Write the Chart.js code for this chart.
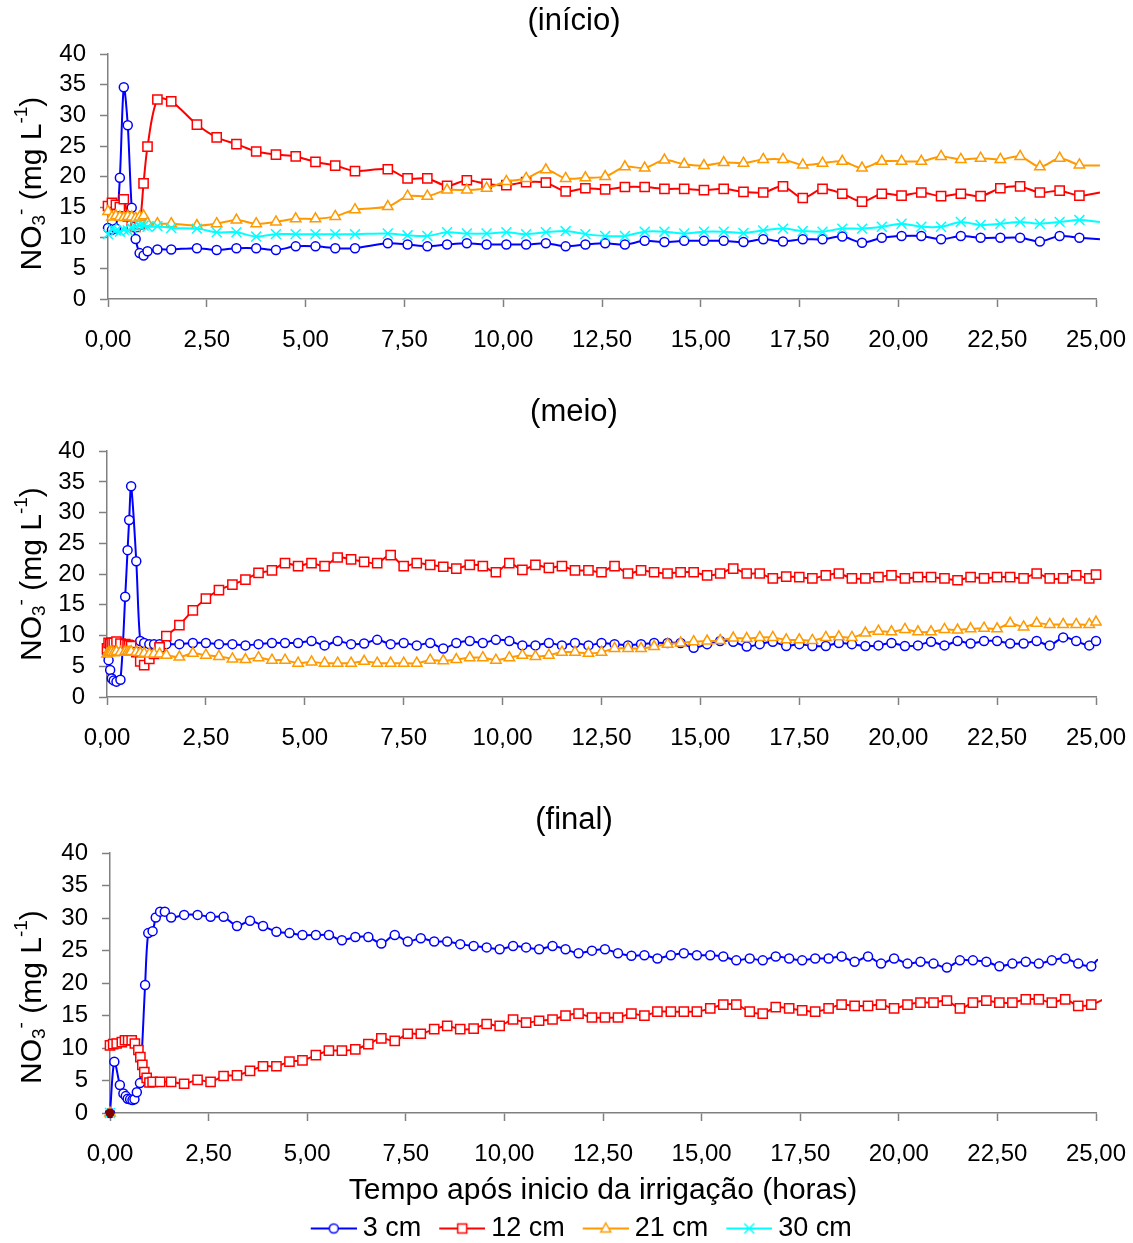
<!DOCTYPE html>
<html>
<head>
<meta charset="utf-8">
<script src="https://cdn.jsdelivr.net/npm/chart.js@4.4.0/dist/chart.umd.min.js"></script>
<style>
  html, body { margin: 0; padding: 0; background: #fff; overflow: hidden; }
  canvas { position: absolute; left: 0; }
  #inicio { top: 0; }
  #meio { top: 390px; }
  #final { top: 790px; }
</style>
</head>
<body>
<canvas id="inicio" width="1133" height="380"></canvas>
<canvas id="meio" width="1133" height="390"></canvas>
<canvas id="final" width="1133" height="462"></canvas>
<script>
const FONT = '"Liberation Sans", Arial, sans-serif';

const xTickValues = [0, 2.5, 5, 7.5, 10, 12.5, 15, 17.5, 20, 22.5, 25];
const xTickLabels = ['0,00', '2,50', '5,00', '7,50', '10,00', '12,50', '15,00', '17,50', '20,00', '22,50', '25,00'];
const seriesNames = ['3 cm', '12 cm', '21 cm', '30 cm'];
const xAxisTitle = 'Tempo após inicio da irrigação (horas)';

// (início)
const tempoInicio = [0, 0.1, 0.2, 0.3, 0.4, 0.5, 0.6, 0.7, 0.8, 0.9, 1.0, 1.25, 1.6,
  2.25, 2.75, 3.25, 3.75, 4.25, 4.75, 5.25, 5.75, 6.25,
  7.08, 7.58, 8.08, 8.58, 9.08, 9.58, 10.08, 10.58, 11.08, 11.58, 12.08, 12.58, 13.08, 13.58, 14.08, 14.58, 15.08, 15.58, 16.08,
  16.58, 17.08, 17.58, 18.08, 18.58, 19.08, 19.58, 20.08, 20.58, 21.08, 21.58, 22.08, 22.58, 23.08, 23.58, 24.08, 24.58,
  25.1];
const inicio3 = [11.6, 11.3, 11.5, 19.8, 34.6, 28.4, 14.9, 9.8, 7.5, 7.1, 7.8, 8.1, 8.1,
  8.3, 8.0, 8.3, 8.3, 8.0, 8.6, 8.6, 8.3, 8.3,
  9.1, 8.9, 8.6, 8.9, 9.1, 8.9, 8.9, 8.9, 9.1, 8.6, 8.9, 9.1, 8.9, 9.5, 9.3, 9.5, 9.5, 9.5, 9.3,
  9.75, 9.4, 9.75, 9.75, 10.2, 9.2, 10.0, 10.3, 10.3, 9.75, 10.3, 10.0, 10.0, 10.0, 9.4, 10.3, 10.0,
  9.75];
const inicio12 = [15.2, 15.7, 15.4, 15.0, 16.3, 13.5, 12.0, 11.8, 12.2, 18.9, 24.9, 32.6, 32.3,
  28.5, 26.4, 25.3, 24.1, 23.6, 23.3, 22.4, 21.8, 20.9,
  21.2, 19.7, 19.7, 18.5, 19.4, 18.8, 18.6, 19.1, 19.0, 17.6, 18.1, 17.9, 18.3, 18.3, 18.0, 18.0, 17.8, 18.0, 17.5,
  17.4, 18.4, 16.5, 18.0, 17.2, 15.9, 17.2, 16.9, 17.4, 16.8, 17.2, 16.8, 18.1, 18.4, 17.4, 17.7, 16.9,
  17.4];
const inicio21 = [14.3, 13.4, 13.6, 13.4, 13.3, 13.5, 13.4, 13.2, 13.4, 13.6, 12.4, 12.3, 12.3,
  12.0, 12.3, 12.9, 12.3, 12.6, 13.1, 13.1, 13.5, 14.6,
  15.1, 16.8, 16.8, 17.8, 17.8, 18.1, 19.2, 19.7, 21.1, 19.7, 19.8, 20.0, 21.6, 21.4, 22.7, 22.0, 21.8, 22.3, 22.2,
  22.8, 22.8, 21.9, 22.2, 22.5, 21.4, 22.5, 22.5, 22.5, 23.3, 22.8, 23.0, 22.8, 23.3, 21.6, 23.0, 21.9,
  21.8];
const inicio30 = [10.6, 11.5, 11.2, 11.0, 11.3, 11.2, 11.6, 11.8, 12.0, 12.0, 11.8, 11.9, 11.6,
  11.5, 10.9, 10.9, 10.2, 10.6, 10.6, 10.6, 10.6, 10.6,
  10.7, 10.4, 10.3, 10.9, 10.7, 10.7, 10.9, 10.6, 10.9, 11.1, 10.6, 10.3, 10.3, 11.0, 11.0, 10.7, 11.0, 11.0, 10.8,
  11.2, 11.5, 11.1, 11.0, 11.5, 11.5, 11.8, 12.3, 11.8, 11.8, 12.6, 12.1, 12.3, 12.6, 12.3, 12.6, 12.9,
  12.6];

// (meio)
const tempoMeio = [0, 0.04, 0.08, 0.12, 0.17, 0.24, 0.34, 0.46, 0.52, 0.56, 0.61, 0.74, 0.84, 0.94, 1.07, 1.19, 1.33,
  1.5, 1.83, 2.17, 2.5, 2.83, 3.17, 3.5, 3.83, 4.17, 4.5, 4.83, 5.17, 5.5, 5.83, 6.17, 6.5, 6.83,
  7.17, 7.5, 7.83, 8.17, 8.5, 8.83, 9.17, 9.5, 9.83, 10.17, 10.5, 10.83, 11.17, 11.5, 11.83, 12.17, 12.5, 12.83, 13.17, 13.5, 13.83, 14.17, 14.5, 14.83, 15.17, 15.5, 15.83, 16.17,
  16.5, 16.83, 17.17, 17.5, 17.83, 18.17, 18.5, 18.83, 19.17, 19.5, 19.83, 20.17, 20.5, 20.83, 21.17, 21.5, 21.83, 22.17, 22.5, 22.83, 23.17, 23.5, 23.83, 24.17, 24.5, 24.83,
  25.0, 25.17];
const meio3 = [7.0, 6.0, 4.4, 3.0, 2.7, 2.5, 2.8, 16.3, 23.9, 28.8, 34.3, 22.1, 9.1, 8.8, 8.6, 8.6, 8.6,
  8.6, 8.6, 8.8, 8.8, 8.6, 8.6, 8.4, 8.6, 8.8, 8.8, 8.8, 9.1, 8.4, 9.1, 8.6, 8.7, 9.3,
  8.6, 8.8, 8.4, 8.8, 7.9, 8.8, 9.1, 8.8, 9.3, 9.1, 8.4, 8.4, 8.8, 8.4, 8.8, 8.4, 8.8, 8.6, 8.4, 8.6, 8.8, 8.8, 8.8, 8.0, 8.6, 9.1, 9.0, 8.2,
  8.6, 9.0, 8.3, 8.6, 8.3, 8.3, 8.8, 8.6, 8.3, 8.4, 8.8, 8.3, 8.4, 9.0, 8.4, 9.1, 8.7, 9.1, 9.1, 8.7, 8.7, 9.1, 8.4, 9.7, 9.1, 8.4,
  9.1, 9.1];
const meio12 = [7.9, 8.8, 8.6, 8.8, 8.8, 9.0, 8.7, 8.6, 8.5, 8.4, 8.3, 7.3, 5.8, 5.2, 6.2, 7.0, 8.1,
  9.9, 11.7, 14.1, 16.0, 17.4, 18.3, 19.1, 20.2, 20.6, 21.8, 21.3, 21.8, 21.3, 22.7, 22.4, 22.0, 21.8,
  23.1, 21.3, 21.8, 21.5, 21.2, 20.9, 21.5, 21.3, 20.3, 21.8, 20.7, 21.5, 21.0, 21.3, 20.6, 20.6, 20.3, 21.3, 20.1, 20.6, 20.3, 20.1, 20.3, 20.3, 19.8, 20.1, 20.9, 20.1,
  20.1, 19.3, 19.6, 19.5, 19.3, 19.8, 20.1, 19.3, 19.3, 19.5, 19.8, 19.3, 19.5, 19.5, 19.3, 19.0, 19.5, 19.3, 19.5, 19.5, 19.3, 20.1, 19.3, 19.3, 19.8, 19.3,
  19.9, 19.1];
const meio21 = [7.0, 7.2, 7.3, 7.3, 7.2, 7.4, 7.3, 7.4, 7.4, 7.3, 7.4, 7.3, 7.2, 7.1, 7.0, 7.0, 7.0,
  6.8, 6.5, 7.1, 6.8, 6.6, 6.2, 6.1, 6.4, 6.0, 6.0, 5.5, 5.7, 5.5, 5.5, 5.5, 5.8, 5.5,
  5.5, 5.5, 5.5, 6.0, 5.9, 6.1, 6.4, 6.4, 6.0, 6.4, 6.8, 6.6, 6.8, 7.3, 7.3, 7.1, 7.3, 7.9, 7.9, 7.9, 8.2, 8.6, 8.8, 9.0, 9.1, 9.2, 9.6, 9.5,
  9.7, 9.7, 9.3, 9.3, 9.2, 9.7, 9.8, 9.7, 10.4, 10.7, 10.6, 11.0, 10.6, 10.6, 11.0, 10.9, 11.1, 11.2, 11.1, 12.0, 11.4, 12.0, 11.8, 11.8, 11.8, 11.8,
  12.2, 12.3];

// (final)
const tempoFinalGrade = [1.55, 1.88, 2.22, 2.55, 2.88, 3.22, 3.55, 3.88, 4.22, 4.55, 4.88, 5.22, 5.55, 5.88, 6.22, 6.55, 6.88,
  7.22, 7.55, 7.88, 8.22, 8.55, 8.88, 9.22, 9.55, 9.88, 10.22, 10.55, 10.88, 11.22, 11.55, 11.88, 12.22, 12.55, 12.88, 13.22, 13.55, 13.88, 14.22, 14.55, 14.88, 15.22, 15.55, 15.88, 16.22,
  16.55, 16.88, 17.22, 17.55, 17.88, 18.22, 18.55, 18.88, 19.22, 19.55, 19.88, 20.22, 20.55, 20.88, 21.22, 21.55, 21.88, 22.22, 22.55, 22.88, 23.22, 23.55, 23.88, 24.22, 24.55, 24.88];
const tempoFinal3Inicio = [0, 0.11, 0.25, 0.34, 0.40, 0.45, 0.51, 0.57, 0.62, 0.68, 0.76, 0.89, 0.97, 1.08, 1.16, 1.27, 1.39];
const final3Inicio = [0.0, 7.9, 4.3, 3.0, 2.6, 2.2, 2.1, 2.0, 2.1, 3.2, 4.6, 19.7, 27.7, 28.0, 30.1, 31.0, 31.0];
const final3 = [30.1, 30.5, 30.5, 30.2, 30.2, 28.8, 29.6, 28.8, 27.9, 27.7, 27.4, 27.4, 27.4, 26.6, 27.1, 27.1, 26.1,
  27.4, 26.4, 26.9, 26.4, 26.4, 26.0, 25.7, 25.5, 25.2, 25.7, 25.5, 25.2, 25.7, 25.2, 24.6, 25.0, 25.2, 24.6, 24.2, 24.3, 23.8, 24.3, 24.6, 24.3, 24.3, 24.1, 23.5, 23.8,
  23.5, 24.1, 23.8, 23.5, 23.8, 23.8, 24.1, 23.3, 24.1, 23.0, 23.8, 23.0, 23.3, 23.0, 22.4, 23.5, 23.5, 23.3, 22.6, 23.0, 23.3, 23.0, 23.5, 23.8, 23.0, 22.6];
const tempoFinal3Fim = [25.05, 25.2];
const final3Fim = [23.6, 22.5];
const tempoFinal12Inicio = [0, 0.08, 0.17, 0.3, 0.38, 0.46, 0.55, 0.63, 0.72, 0.77, 0.82, 0.87, 0.93, 1.0, 1.08, 1.27];
const final12Inicio = [10.4, 10.6, 10.7, 10.9, 11.2, 11.2, 11.2, 10.7, 9.7, 8.6, 7.4, 6.3, 5.4, 4.7, 4.8, 4.8];
const final12 = [4.8, 4.5, 5.1, 4.8, 5.7, 5.8, 6.5, 7.2, 7.2, 7.9, 8.1, 8.9, 9.6, 9.6, 9.8, 10.6, 11.5,
  11.1, 12.2, 12.2, 12.9, 13.4, 12.9, 13.0, 13.7, 13.4, 14.4, 13.9, 14.2, 14.4, 15.0, 15.3, 14.7, 14.7, 14.7, 15.3, 15.0, 15.6, 15.6, 15.6, 15.6, 16.1, 16.7, 16.7, 15.6,
  15.3, 16.3, 16.1, 15.8, 15.6, 16.1, 16.7, 16.5, 16.5, 16.7, 16.1, 16.7, 17.0, 17.0, 17.3, 16.1, 17.0, 17.3, 17.0, 17.0, 17.5, 17.5, 17.0, 17.5, 16.5, 16.7];
const tempoFinal12Fim = [25.2];
const final12Fim = [17.5];
const tempoFinalZero = [0];
const final21 = [0];
const final30 = [0];
const finalExtra = [0];

// series look
const styles = [
  { color: '#0000FF', marker: 'circle', radius: 4.5 },
  { color: '#FF0000', marker: 'rect', radius: 6.5 },
  { color: '#FF9900', marker: 'triangle', radius: 6 },
  { color: '#00FFFF', marker: 'crossRot', radius: 7 }
];

function pts(times, values) {
  return times.map((t, i) => ({ x: t, y: values[i] }));
}

function dataset(k, data) {
  const s = styles[k];
  return {
    label: seriesNames[k],
    data: data,
    borderColor: s.color,
    backgroundColor: '#FFFFFF',
    borderWidth: 2,
    pointStyle: s.marker,
    pointRadius: ctx => (ctx.raw && ctx.raw.x > 25 ? 0 : s.radius),
    pointHoverRadius: 0,
    pointBorderColor: s.color,
    pointBackgroundColor: '#FFFFFF',
    pointBorderWidth: 1.5,
    tension: 0.3,
    spanGaps: true,
    fill: false,
    clip: { left: 20, top: 20, right: 6, bottom: 20 },
    order: 3 - k
  };
}

// little "line + marker" pictures for the legend
function makeIcon(k) {
  const s = styles[k];
  const c = document.createElement('canvas');
  c.width = 68; c.height = 16;
  const g = c.getContext('2d');
  g.strokeStyle = s.color;
  g.fillStyle = '#FFFFFF';
  g.lineWidth = 2;
  g.beginPath(); g.moveTo(22, 8); g.lineTo(68, 8); g.stroke();
  g.lineWidth = 1.5;
  const cx = 45, cy = 8;
  g.beginPath();
  if (s.marker === 'circle') {
    g.arc(cx, cy, 4.5, 0, Math.PI * 2);
    g.fill(); g.stroke();
  } else if (s.marker === 'rect') {
    g.rect(cx - 4.5, cy - 4.5, 9, 9);
    g.fill(); g.stroke();
  } else if (s.marker === 'triangle') {
    g.moveTo(cx, cy - 5.5); g.lineTo(cx + 5, cy + 3.5); g.lineTo(cx - 5, cy + 3.5); g.closePath();
    g.fill(); g.stroke();
  } else {
    g.moveTo(cx - 5, cy - 5); g.lineTo(cx + 5, cy + 5);
    g.moveTo(cx + 5, cy - 5); g.lineTo(cx - 5, cy + 5);
    g.stroke();
  }
  return c;
}
const legendIcons = [0, 1, 2, 3].map(makeIcon);

// y axis title with sub/superscripts
const yTitlePlugin = {
  id: 'yTitle',
  afterDraw(chart, args, opts) {
    const { ctx, chartArea } = chart;
    const parts = [
      { t: 'NO', s: 30, dy: 0 },
      { t: '3', s: 19, dy: 7 },
      { t: '-', s: 19, dy: -11 },
      { t: ' (mg L', s: 30, dy: 0 },
      { t: '-1', s: 19, dy: -11 },
      { t: ')', s: 30, dy: 0 }
    ];
    ctx.save();
    ctx.fillStyle = '#000';
    ctx.textBaseline = 'middle';
    ctx.textAlign = 'left';
    let total = 0;
    parts.forEach(p => {
      ctx.font = p.s + 'px ' + FONT;
      p.w = ctx.measureText(p.t).width;
      total += p.w;
    });
    ctx.translate(opts.x, (chartArea.top + chartArea.bottom) / 2 + opts.shift);
    ctx.rotate(-Math.PI / 2);
    let x = -total / 2;
    parts.forEach(p => {
      ctx.font = p.s + 'px ' + FONT;
      ctx.fillText(p.t, x, p.dy);
      x += p.w;
    });
    ctx.restore();
  }
};

function axisCommon() {
  return {
    grid: { drawOnChartArea: false, drawTicks: true, tickLength: 8, tickColor: '#808080', tickWidth: 1.5 },
    border: { display: true, color: '#808080', width: 1.5 }
  };
}

const PAD_LEFT = 52;

function buildChart(id, cfg) {
  return new Chart(document.getElementById(id), {
    type: 'line',
    data: { datasets: cfg.datasets },
    options: {
      responsive: false,
      animation: false,
      events: [],
      layout: { padding: { top: 0, right: 37, bottom: 0, left: PAD_LEFT } },
      plugins: {
        title: {
          display: true, text: cfg.title, color: '#000',
          font: { family: FONT, size: 31, weight: 'normal' },
          padding: cfg.titlePadding
        },
        legend: cfg.legend || { display: false },
        tooltip: { enabled: false },
        yTitle: { x: 33, shift: cfg.yShift }
      },
      scales: {
        x: Object.assign(axisCommon(), {
          type: 'linear', min: 0, max: 25,
          afterBuildTicks: s => { s.ticks = xTickValues.map(v => ({ value: v })); },
          afterFit: s => {
            s.height = cfg.xHeight;
            s.paddingLeft = 0;
            s.paddingRight = 0;
          },
          ticks: {
            autoSkip: false, maxRotation: 0, padding: 19, color: '#000',
            font: { family: FONT, size: 24 },
            callback: (v, i) => xTickLabels[i]
          },
          title: cfg.xTitle
            ? { display: true, text: xAxisTitle, color: '#000', font: { family: FONT, size: 30 }, padding: { top: 4, bottom: 3 } }
            : { display: false }
        }),
        y: Object.assign(axisCommon(), {
          type: 'linear', min: 0, max: 40,
          afterFit: s => { s.width = cfg.plotLeft - PAD_LEFT; },
          ticks: { stepSize: 5, autoSkip: false, padding: 14, color: '#000', font: { family: FONT, size: 24 } }
        })
      }
    },
    plugins: [yTitlePlugin]
  });
}

buildChart('inicio', {
  title: '(início)',
  titlePadding: { top: 3, bottom: 14 },
  xHeight: 81, plotLeft: 108, yShift: 7,
  datasets: [
    dataset(0, pts(tempoInicio, inicio3)),
    dataset(1, pts(tempoInicio, inicio12)),
    dataset(2, pts(tempoInicio, inicio21)),
    dataset(3, pts(tempoInicio, inicio30))
  ]
});

buildChart('meio', {
  title: '(meio)',
  titlePadding: { top: 4, bottom: 20 },
  xHeight: 83, plotLeft: 107, yShift: 0,
  datasets: [
    dataset(0, pts(tempoMeio, meio3)),
    dataset(1, pts(tempoMeio, meio12)),
    dataset(2, pts(tempoMeio, meio21))
  ]
});

const extraDot = {
  label: 'extra', data: pts(tempoFinalZero, finalExtra),
  borderColor: '#800000', backgroundColor: '#800000', pointBackgroundColor: '#800000',
  pointStyle: 'circle', pointRadius: 4, pointBorderWidth: 1, showLine: false,
  clip: false, order: -1
};

buildChart('final', {
  title: '(final)',
  titlePadding: { top: 12, bottom: 14 },
  xHeight: 98.5, plotLeft: 110, yShift: 14, xTitle: true,
  datasets: [
    dataset(0, pts(tempoFinal3Inicio.concat(tempoFinalGrade, tempoFinal3Fim), final3Inicio.concat(final3, final3Fim))),
    dataset(1, pts(tempoFinal12Inicio.concat(tempoFinalGrade, tempoFinal12Fim), final12Inicio.concat(final12, final12Fim))),
    dataset(2, pts(tempoFinalZero, final21)),
    dataset(3, pts(tempoFinalZero, final30)),
    extraDot
  ],
  legend: {
    display: true,
    position: 'bottom',
    labels: {
      usePointStyle: true,
      pointStyleWidth: 53,
      boxHeight: 16,
      padding: 3.5,
      color: '#000',
      font: { family: FONT, size: 27 },
      generateLabels: chart => Chart.defaults.plugins.legend.labels.generateLabels(chart)
        .map(item => Object.assign(item, { pointStyle: legendIcons[item.datasetIndex] })),
      filter: item => item.datasetIndex < 4,
      sort: (a, b) => a.datasetIndex - b.datasetIndex
    }
  }
});
</script>
</body>
</html>
